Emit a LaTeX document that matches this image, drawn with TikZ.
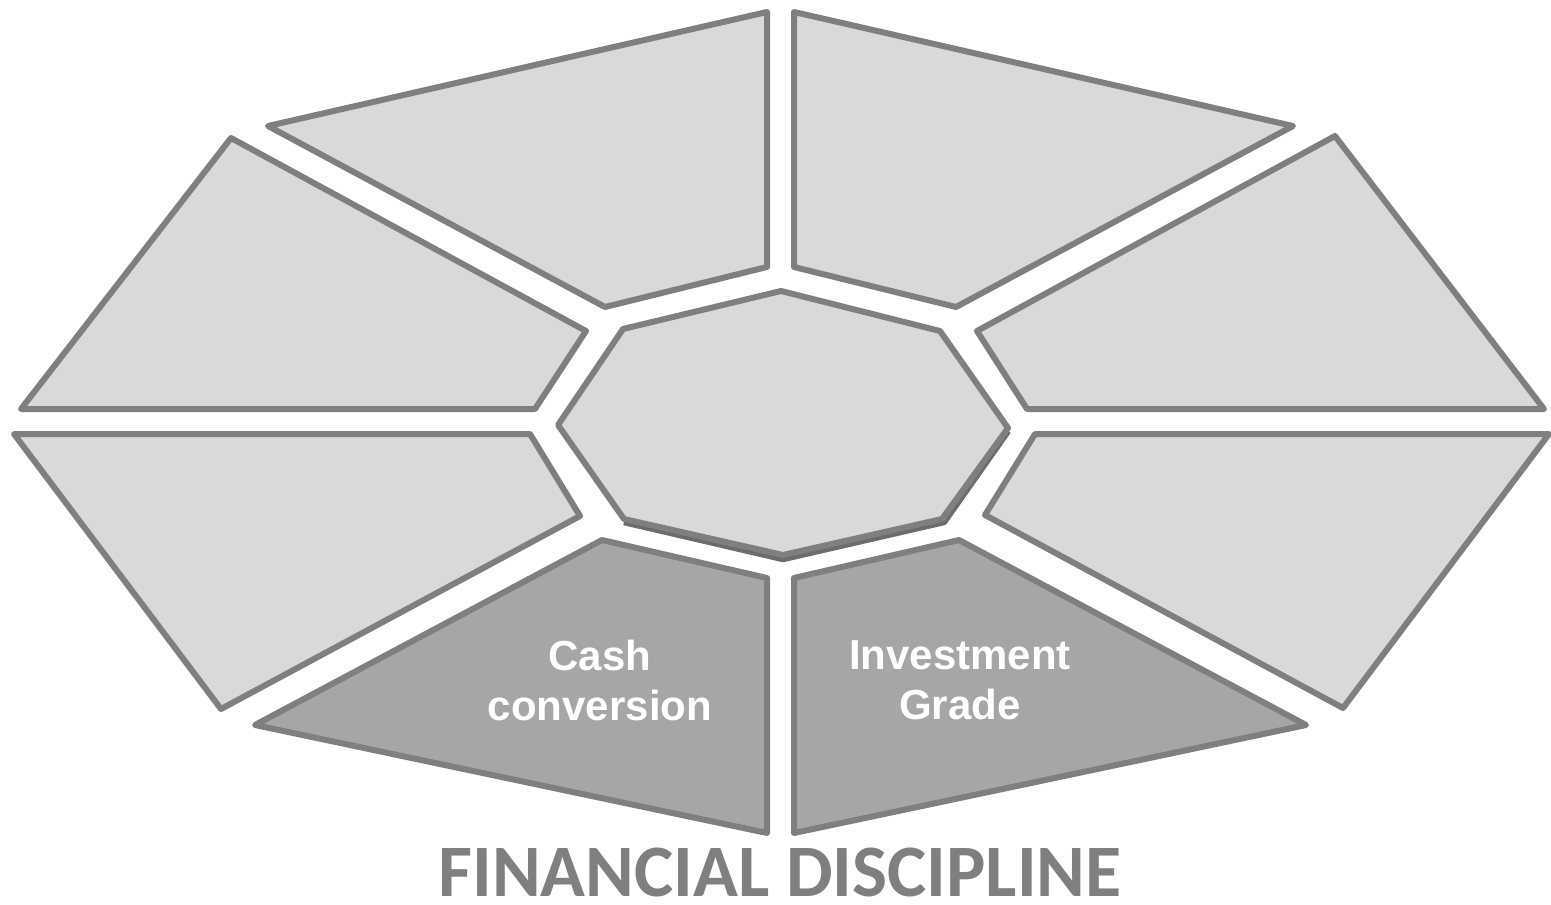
\documentclass[tikz,border=0pt]{standalone}
\usepackage{fontspec}
\setmainfont{Liberation Sans}
\newfontfamily\titlefont{Carlito}
\definecolor{edge}{HTML}{7F7F7F}
\definecolor{lightf}{HTML}{D9D9D9}
\definecolor{darkf}{HTML}{A6A6A6}
\begin{document}
\begin{tikzpicture}[x=1pt,y=-1pt,
  seg/.style={draw=edge,line width=6pt,line join=round,fill=lightf},
  segd/.style={seg,fill=darkf},
  lab/.style={text=white,font=\fontsize{42}{50}\selectfont\bfseries,align=center}]
\useasboundingbox (0,0) rectangle (1551,905);
% centre octagon with slight shadow
\draw[draw=edge!85!black,line width=6.5pt,line join=round] (1008,431) -- (944,522) -- (783,559) -- (624,522);
\draw[seg] (623,329) -- (781,291) -- (940,331) -- (1008,428) -- (942,519) -- (783,555) -- (624,519) -- (558,425) -- cycle;
% outer ring
\draw[seg] (268,126) -- (767,12) -- (767,267) -- (605,307) -- cycle;
\draw[seg] (794,12) -- (1293,126) -- (956,307) -- (794,267) -- cycle;
\draw[seg] (231,138) -- (586,331) -- (535,409) -- (21,409) -- cycle;
\draw[seg] (1335,136) -- (1544,409) -- (1027,409) -- (977,331) -- cycle;
\draw[seg] (14,434) -- (530,434) -- (580,516) -- (221,709) -- cycle;
\draw[seg] (1035,434) -- (1549,434) -- (1343,708) -- (985,515) -- cycle;
\draw[segd] (602,540) -- (767,578) -- (767,833) -- (255,725) -- cycle;
\draw[segd] (959,540) -- (1306,725) -- (794,833) -- (794,578) -- cycle;
% labels
\node[lab] (cash) at (600,680) {Cash\\conversion};
\node[lab] (ig) at (960,680) {Investment\\Grade};
\node[text=edge,anchor=base,inner sep=0pt,text depth=0pt,font=\titlefont\fontsize{74}{80}\selectfont\bfseries] (title) at (780,896) {FINANCIAL DISCIPLINE};
\end{tikzpicture}
\end{document}
